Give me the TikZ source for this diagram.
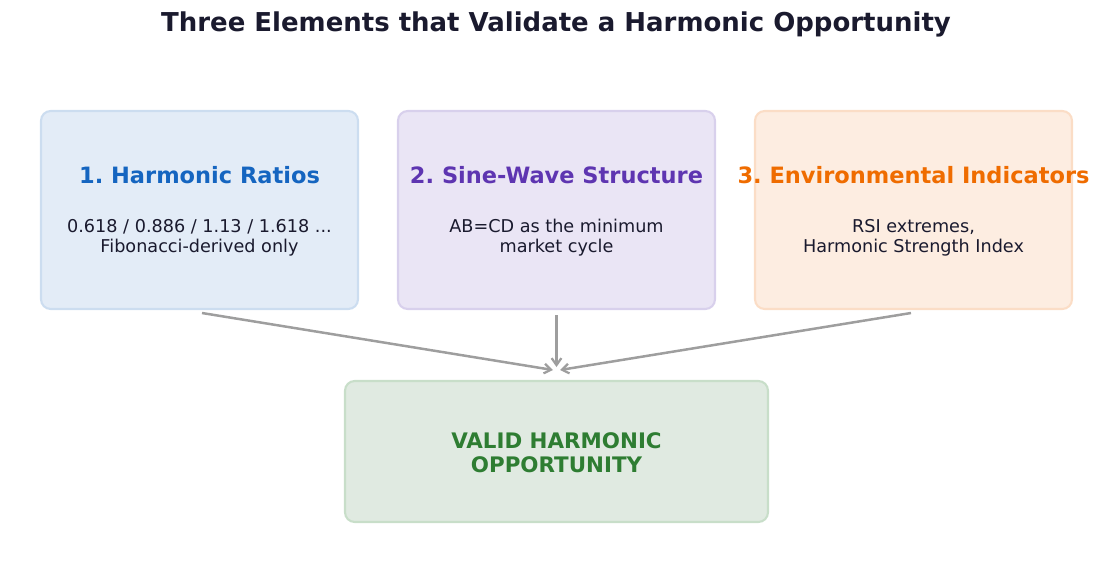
\documentclass[tikz,border=0pt]{standalone}
\usepackage{fontspec}
\setmainfont{DejaVu Sans}
\frenchspacing
\usetikzlibrary{arrows.meta}
\definecolor{titlec}{HTML}{1A1A2E}
\definecolor{bodyc}{HTML}{1A1A2E}
\definecolor{f1}{HTML}{E3ECF7}\definecolor{d1}{HTML}{CCDDF0}\definecolor{t1}{HTML}{1565C0}
\definecolor{f2}{HTML}{EAE5F5}\definecolor{d2}{HTML}{D8D0EC}\definecolor{t2}{HTML}{5E35B1}
\definecolor{f3}{HTML}{FDEDE1}\definecolor{d3}{HTML}{FBDDC6}\definecolor{t3}{HTML}{EF6C00}
\definecolor{f4}{HTML}{E0EAE1}\definecolor{d4}{HTML}{C8DEC9}\definecolor{t4}{HTML}{2E7D32}
\definecolor{arrc}{HTML}{9E9E9E}
\tikzset{
  box/.style={rounded corners=7pt, line width=1.5pt, minimum width=317*0.72pt, minimum height=198*0.72pt, inner sep=0pt},
  boxtitle/.style={font=\fontsize{16.2}{19}\selectfont\bfseries},
  boxbody/.style={font=\fontsize{12.7}{14.4}\selectfont, text=bodyc, align=center},
  conn/.style={draw=arrc, line width=1.8pt, -{Straight Barb[length=5pt,width=7pt,line width=1.6pt]}}
}
\begin{document}
\begin{tikzpicture}[x=0.72pt,y=-0.72pt]
\useasboundingbox (0,0) rectangle (1113,574);
\node[font=\fontsize{18.7}{22}\selectfont\bfseries, text=titlec] (title) at (556,24) {Three Elements that Validate a Harmonic Opportunity};
\node[box, fill=f1, draw=d1] (b1) at (199.5,210) {};
\node[box, fill=f2, draw=d2] (b2) at (556.5,210) {};
\node[box, fill=f3, draw=d3] (b3) at (913.5,210) {};
\node[box, fill=f4, draw=d4, minimum width=423*0.72pt, minimum height=141*0.72pt] (res) at (556.5,451.5) {};
\node[boxtitle, text=t1] (h1) at (199.5,175) {1. Harmonic Ratios};
\node[boxtitle, text=t2] (h2) at (556.5,175) {2. Sine-Wave Structure};
\node[boxtitle, text=t3] (h3) at (913.5,175) {3. Environmental Indicators};
\node[boxbody] (p1) at (199.5,237.5) {0.618 / 0.886 / 1.13 / 1.618 ...\\Fibonacci-derived only};
\node[boxbody] (p2) at (556.5,237.5) {AB=CD as the minimum\\market cycle};
\node[boxbody] (p3) at (913.5,237.5) {RSI extremes,\\Harmonic Strength Index};
\node[font=\fontsize{15.4}{17.5}\selectfont\bfseries, text=t4, align=center] (rt) at (556.5,453) {VALID HARMONIC\\OPPORTUNITY};
\coordinate (s1) at (202,313);
\coordinate (s2) at (556.5,315);
\coordinate (s3) at (911,313);
\coordinate (e1) at (553,370);
\coordinate (e2) at (556.5,367);
\coordinate (e3) at (560,370);
\draw[conn] (s1) -- (e1);
\draw[conn] (s2) -- (e2);
\draw[conn] (s3) -- (e3);
\end{tikzpicture}
\end{document}
